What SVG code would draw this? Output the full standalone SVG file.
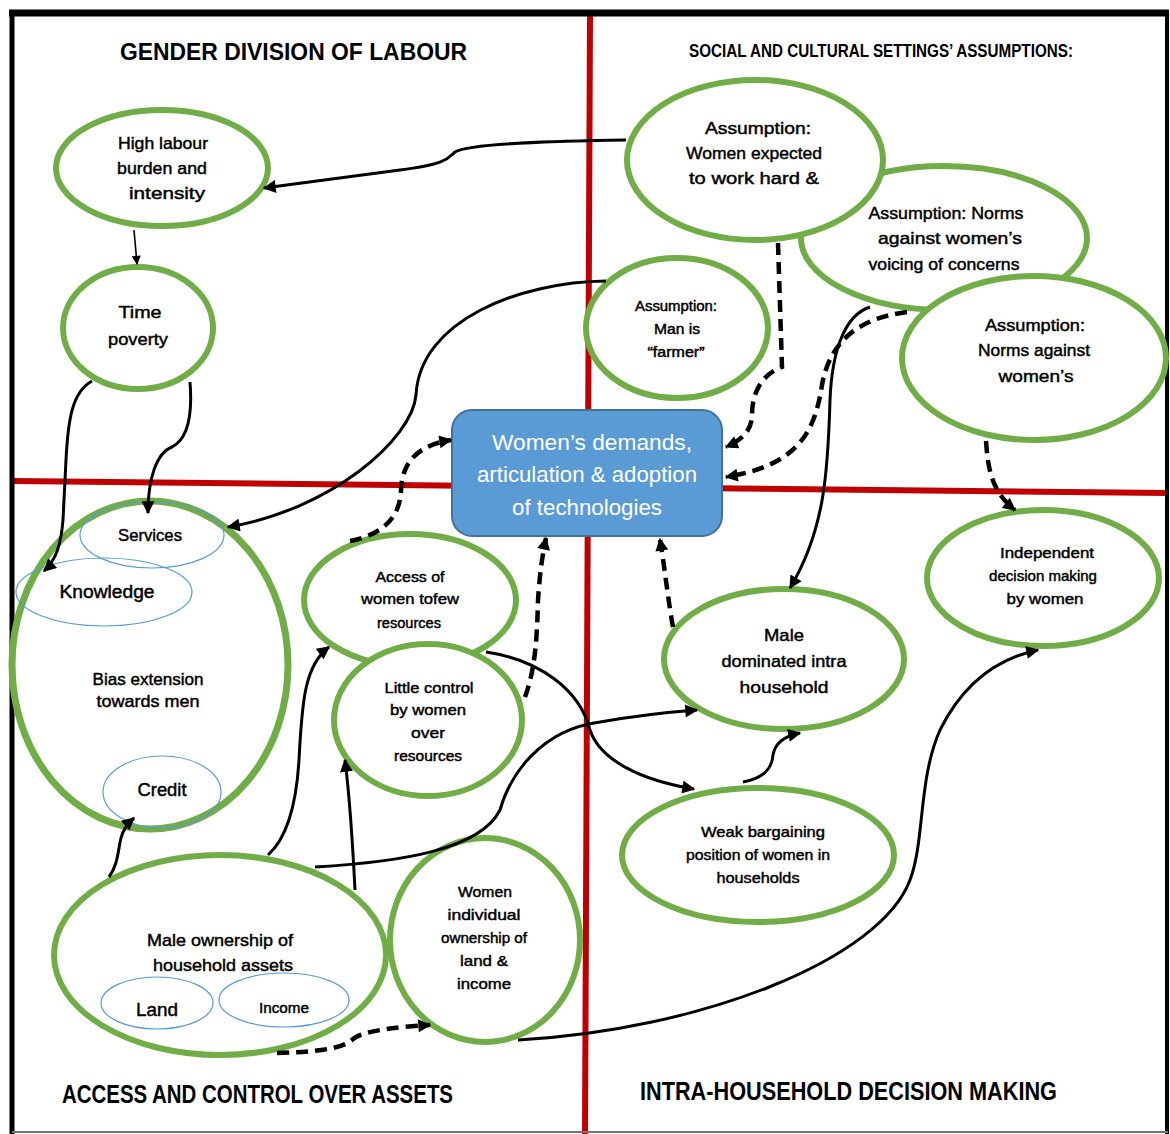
<svg xmlns="http://www.w3.org/2000/svg" width="1170" height="1134" viewBox="0 0 1170 1134">
<defs>
<marker id="arr" viewBox="0 0 10 10" refX="9" refY="5" markerWidth="15" markerHeight="13" markerUnits="userSpaceOnUse" orient="auto">
<path d="M0,0 L10,5 L0,10 z" fill="#000"/>
</marker>
<marker id="arrs" viewBox="0 0 10 10" refX="9" refY="5" markerWidth="10" markerHeight="9" markerUnits="userSpaceOnUse" orient="auto">
<path d="M0,0 L10,5 L0,10 z" fill="#000"/>
</marker>
<style>
.node{fill:#fff;stroke:#70AD47;stroke-width:6}
.sub{fill:none;stroke:#5B9BD5;stroke-width:1.2}
.t{font-family:"Liberation Sans",Arial,sans-serif;fill:#000;stroke:#000;stroke-width:0.45;text-anchor:middle}
.t17{font-size:17px}
.t15{font-size:15px}
.t14{font-size:14px}
.t18{font-size:18px}
.title{font-family:"Liberation Sans",Arial,sans-serif;font-weight:bold;fill:#000}
.sol{fill:none;stroke:#000;stroke-width:3;marker-end:url(#arr)}
.dash{fill:none;stroke:#000;stroke-width:4.5;stroke-dasharray:12 7;marker-end:url(#arr)}
.bt{font-family:"Liberation Sans",Arial,sans-serif;font-size:22px;fill:#fff;text-anchor:middle}
</style>
</defs>
<rect x="0" y="0" width="1170" height="1134" fill="#fff"/>
<g id="frame">
<line x1="590" y1="16" x2="585" y2="1134" stroke="#C00000" stroke-width="6"/>
<line x1="14" y1="481" x2="1168" y2="493" stroke="#C00000" stroke-width="6"/>
<line x1="9" y1="13" x2="1169" y2="13" stroke="#000" stroke-width="7"/>
<line x1="12" y1="10" x2="12" y2="1134" stroke="#000" stroke-width="5"/>
<line x1="1167" y1="10" x2="1167" y2="1134" stroke="#000" stroke-width="4"/>
<line x1="12" y1="1132" x2="1168" y2="1132" stroke="#777" stroke-width="2"/>
</g>
<g id="titles">
<text class="title" x="120" y="60" font-size="24" textLength="347" lengthAdjust="spacingAndGlyphs">GENDER DIVISION OF LABOUR</text>
<text class="title" x="689" y="57" font-size="17.5" textLength="384" lengthAdjust="spacingAndGlyphs">SOCIAL AND CULTURAL SETTINGS’ ASSUMPTIONS:</text>
<text class="title" x="62" y="1103" font-size="25" textLength="391" lengthAdjust="spacingAndGlyphs">ACCESS AND CONTROL OVER ASSETS</text>
<text class="title" x="640" y="1100" font-size="25" textLength="417" lengthAdjust="spacingAndGlyphs">INTRA-HOUSEHOLD DECISION MAKING</text>
</g>
<g id="n-high-labour">
<ellipse class="node" cx="162" cy="168" rx="106" ry="58"/>
<text class="t t17" x="163" y="149" textLength="90" lengthAdjust="spacingAndGlyphs">High labour</text>
<text class="t t17" x="162" y="174" textLength="90" lengthAdjust="spacingAndGlyphs">burden and</text>
<text class="t t17" x="167" y="199" textLength="76" lengthAdjust="spacingAndGlyphs">intensity</text>
</g>
<g id="n-time-poverty">
<ellipse class="node" cx="138" cy="328" rx="75" ry="61"/>
<text class="t t17" x="140" y="318" textLength="43" lengthAdjust="spacingAndGlyphs">Time</text>
<text class="t t17" x="138" y="345" textLength="60" lengthAdjust="spacingAndGlyphs">poverty</text>
</g>
<g id="n-norms-voicing">
<ellipse class="node" cx="944" cy="238" rx="143" ry="72"/>
<text class="t t17" x="946" y="219" textLength="155" lengthAdjust="spacingAndGlyphs">Assumption: Norms</text>
<text class="t t17" x="950" y="244" textLength="144" lengthAdjust="spacingAndGlyphs">against women’s</text>
<text class="t t17" x="944" y="270" textLength="151" lengthAdjust="spacingAndGlyphs">voicing of concerns</text>
</g>
<g id="n-women-expected">
<ellipse class="node" cx="755" cy="160" rx="128" ry="80"/>
<text class="t t17" x="758" y="134" textLength="106" lengthAdjust="spacingAndGlyphs">Assumption:</text>
<text class="t t17" x="754" y="159" textLength="136" lengthAdjust="spacingAndGlyphs">Women expected</text>
<text class="t t17" x="754" y="184" textLength="130" lengthAdjust="spacingAndGlyphs">to work hard &amp;</text>
</g>
<g id="n-norms-against">
<ellipse class="node" cx="1034" cy="358" rx="132" ry="82"/>
<text class="t t17" x="1035" y="331" textLength="100" lengthAdjust="spacingAndGlyphs">Assumption:</text>
<text class="t t17" x="1034" y="356" textLength="112" lengthAdjust="spacingAndGlyphs">Norms against</text>
<text class="t t17" x="1036" y="382" textLength="75" lengthAdjust="spacingAndGlyphs">women’s</text>
</g>
<g id="n-farmer">
<ellipse class="node" cx="677" cy="328" rx="91" ry="70"/>
<text class="t t14" x="676" y="311" textLength="82" lengthAdjust="spacingAndGlyphs">Assumption:</text>
<text class="t t14" x="677" y="334" textLength="46" lengthAdjust="spacingAndGlyphs">Man is</text>
<text class="t t14" x="676" y="357" textLength="57" lengthAdjust="spacingAndGlyphs">“farmer”</text>
</g>
<g id="n-bias">
<ellipse class="node" cx="150" cy="665" rx="138" ry="164" style="stroke-width:7"/>
<ellipse class="sub" cx="152" cy="535" rx="72" ry="33"/>
<ellipse class="sub" cx="104" cy="592" rx="88" ry="34"/>
<ellipse class="sub" cx="162" cy="792" rx="59" ry="36"/>
<text class="t t17" x="150" y="541" textLength="64" lengthAdjust="spacingAndGlyphs">Services</text>
<text class="t t18" x="107" y="598" textLength="95" lengthAdjust="spacingAndGlyphs">Knowledge</text>
<text class="t t17" x="148" y="685" textLength="111" lengthAdjust="spacingAndGlyphs">Bias extension</text>
<text class="t t17" x="148" y="707" textLength="103" lengthAdjust="spacingAndGlyphs">towards men</text>
<text class="t t18" x="162" y="796" textLength="49" lengthAdjust="spacingAndGlyphs">Credit</text>
</g>
<g id="n-access">
<ellipse class="node" cx="410" cy="600" rx="106" ry="66"/>
<text class="t t15" x="410" y="582" textLength="69" lengthAdjust="spacingAndGlyphs">Access of</text>
<text class="t t15" x="410" y="604" textLength="98" lengthAdjust="spacingAndGlyphs">women tofew</text>
<text class="t t15" x="409" y="628" textLength="64" lengthAdjust="spacingAndGlyphs">resources</text>
</g>
<g id="n-little-control">
<ellipse class="node" cx="428" cy="720" rx="94" ry="76"/>
<text class="t t15" x="429" y="693" textLength="89" lengthAdjust="spacingAndGlyphs">Little control</text>
<text class="t t15" x="428" y="715" textLength="76" lengthAdjust="spacingAndGlyphs">by women</text>
<text class="t t15" x="428" y="738" textLength="34" lengthAdjust="spacingAndGlyphs">over</text>
<text class="t t15" x="428" y="761" textLength="68" lengthAdjust="spacingAndGlyphs">resources</text>
</g>
<g id="n-demands">
<rect x="452" y="410" width="270" height="126" rx="20" ry="20" fill="#5B9BD5" stroke="#41719C" stroke-width="2"/>
<text class="bt" x="592" y="450" textLength="200" lengthAdjust="spacingAndGlyphs">Women’s demands,</text>
<text class="bt" x="587" y="482" textLength="220" lengthAdjust="spacingAndGlyphs">articulation &amp; adoption</text>
<text class="bt" x="587" y="515" textLength="150" lengthAdjust="spacingAndGlyphs">of technologies</text>
</g>
<g id="n-male-dominated">
<ellipse class="node" cx="784" cy="659" rx="120" ry="70"/>
<text class="t t17" x="784" y="641" textLength="40" lengthAdjust="spacingAndGlyphs">Male</text>
<text class="t t17" x="784" y="667" textLength="125" lengthAdjust="spacingAndGlyphs">dominated intra</text>
<text class="t t17" x="784" y="693" textLength="89" lengthAdjust="spacingAndGlyphs">household</text>
</g>
<g id="n-independent">
<ellipse class="node" cx="1043" cy="578" rx="116" ry="68"/>
<text class="t t15" x="1047" y="558" textLength="94" lengthAdjust="spacingAndGlyphs">Independent</text>
<text class="t t15" x="1043" y="581" textLength="108" lengthAdjust="spacingAndGlyphs">decision making</text>
<text class="t t15" x="1045" y="604" textLength="77" lengthAdjust="spacingAndGlyphs">by women</text>
</g>
<g id="n-weak-bargaining">
<ellipse class="node" cx="758" cy="855" rx="136" ry="67"/>
<text class="t t15" x="763" y="837" textLength="124" lengthAdjust="spacingAndGlyphs">Weak bargaining</text>
<text class="t t15" x="758" y="860" textLength="144" lengthAdjust="spacingAndGlyphs">position of women in</text>
<text class="t t15" x="758" y="883" textLength="83" lengthAdjust="spacingAndGlyphs">households</text>
</g>
<g id="n-male-ownership">
<ellipse class="node" cx="220" cy="955" rx="166" ry="100"/>
<ellipse class="sub" cx="157" cy="1003" rx="56" ry="26"/>
<ellipse class="sub" cx="284" cy="1000" rx="65" ry="27"/>
<text class="t t17" x="220" y="946" textLength="146" lengthAdjust="spacingAndGlyphs">Male ownership of</text>
<text class="t t17" x="223" y="971" textLength="140" lengthAdjust="spacingAndGlyphs">household assets</text>
<text class="t t18" x="157" y="1016" textLength="42" lengthAdjust="spacingAndGlyphs">Land</text>
<text class="t t15" x="284" y="1013" textLength="50" lengthAdjust="spacingAndGlyphs">Income</text>
</g>
<g id="n-women-individual">
<ellipse class="node" cx="485" cy="940" rx="95" ry="102"/>
<text class="t t15" x="485" y="897" textLength="54" lengthAdjust="spacingAndGlyphs">Women</text>
<text class="t t15" x="484" y="920" textLength="73" lengthAdjust="spacingAndGlyphs">individual</text>
<text class="t t15" x="484" y="943" textLength="86" lengthAdjust="spacingAndGlyphs">ownership of</text>
<text class="t t15" x="484" y="966" textLength="48" lengthAdjust="spacingAndGlyphs">land &amp;</text>
<text class="t t15" x="484" y="989" textLength="54" lengthAdjust="spacingAndGlyphs">income</text>
</g>
<g id="connectors">
<path class="sol" d="M626 140 C560 141 470 143 455 152 C448 158 448 164 400 170 L264 188"/>
<path d="M134 230 L137 264" fill="none" stroke="#000" stroke-width="1.6" marker-end="url(#arrs)"/>
<path class="sol" d="M92 381 C72 392 68 420 66 460 L63 520 C61 545 56 560 44 571"/>
<path class="sol" d="M190 382 C193 420 186 440 172 447 C156 453 148 480 148 513"/>
<path class="sol" d="M606 281 C520 282 420 320 416 395 C412 440 330 510 228 527"/>
<path class="dash" d="M778 243 L782 367 C760 375 752 395 752 415 C752 430 742 440 726 447"/>
<path class="dash" d="M907 312 C860 318 830 340 822 385 C815 430 800 465 726 477"/>
<path class="sol" d="M870 307 C845 315 832 350 830 400 C828 470 825 530 790 588"/>
<path class="dash" d="M986 441 C988 470 992 492 1015 510"/>
<path class="dash" d="M350 541 C380 535 400 520 401 490 C402 460 420 445 451 440"/>
<path class="dash" d="M525 697 C535 670 537 640 538 600 C540 570 543 552 546 538"/>
<path class="dash" d="M673 627 C668 600 665 570 660 539"/>
<path class="sol" d="M486 652 C540 660 580 690 590 730 C600 760 640 780 694 789"/>
<path class="sol" d="M315 867 C400 862 480 850 500 810 C510 775 540 730 600 722 C640 715 670 712 697 710"/>
<path class="sol" d="M268 855 C285 840 296 810 299 760 C302 700 305 665 329 647"/>
<path class="sol" d="M355 890 C353 850 350 800 345 760"/>
<path class="sol" d="M109 877 C118 865 118 850 121 838 C123 830 127 824 134 818"/>
<path class="dash" d="M277 1053 C310 1052 340 1050 352 1040 C362 1030 400 1027 430 1025"/>
<path class="sol" d="M518 1040 C700 1030 880 960 910 880 C925 840 918 780 940 730 C960 690 990 660 1038 650"/>
<path class="sol" d="M743 782 C765 778 772 768 773 755 C775 742 785 736 800 733"/>
</g>
</svg>
